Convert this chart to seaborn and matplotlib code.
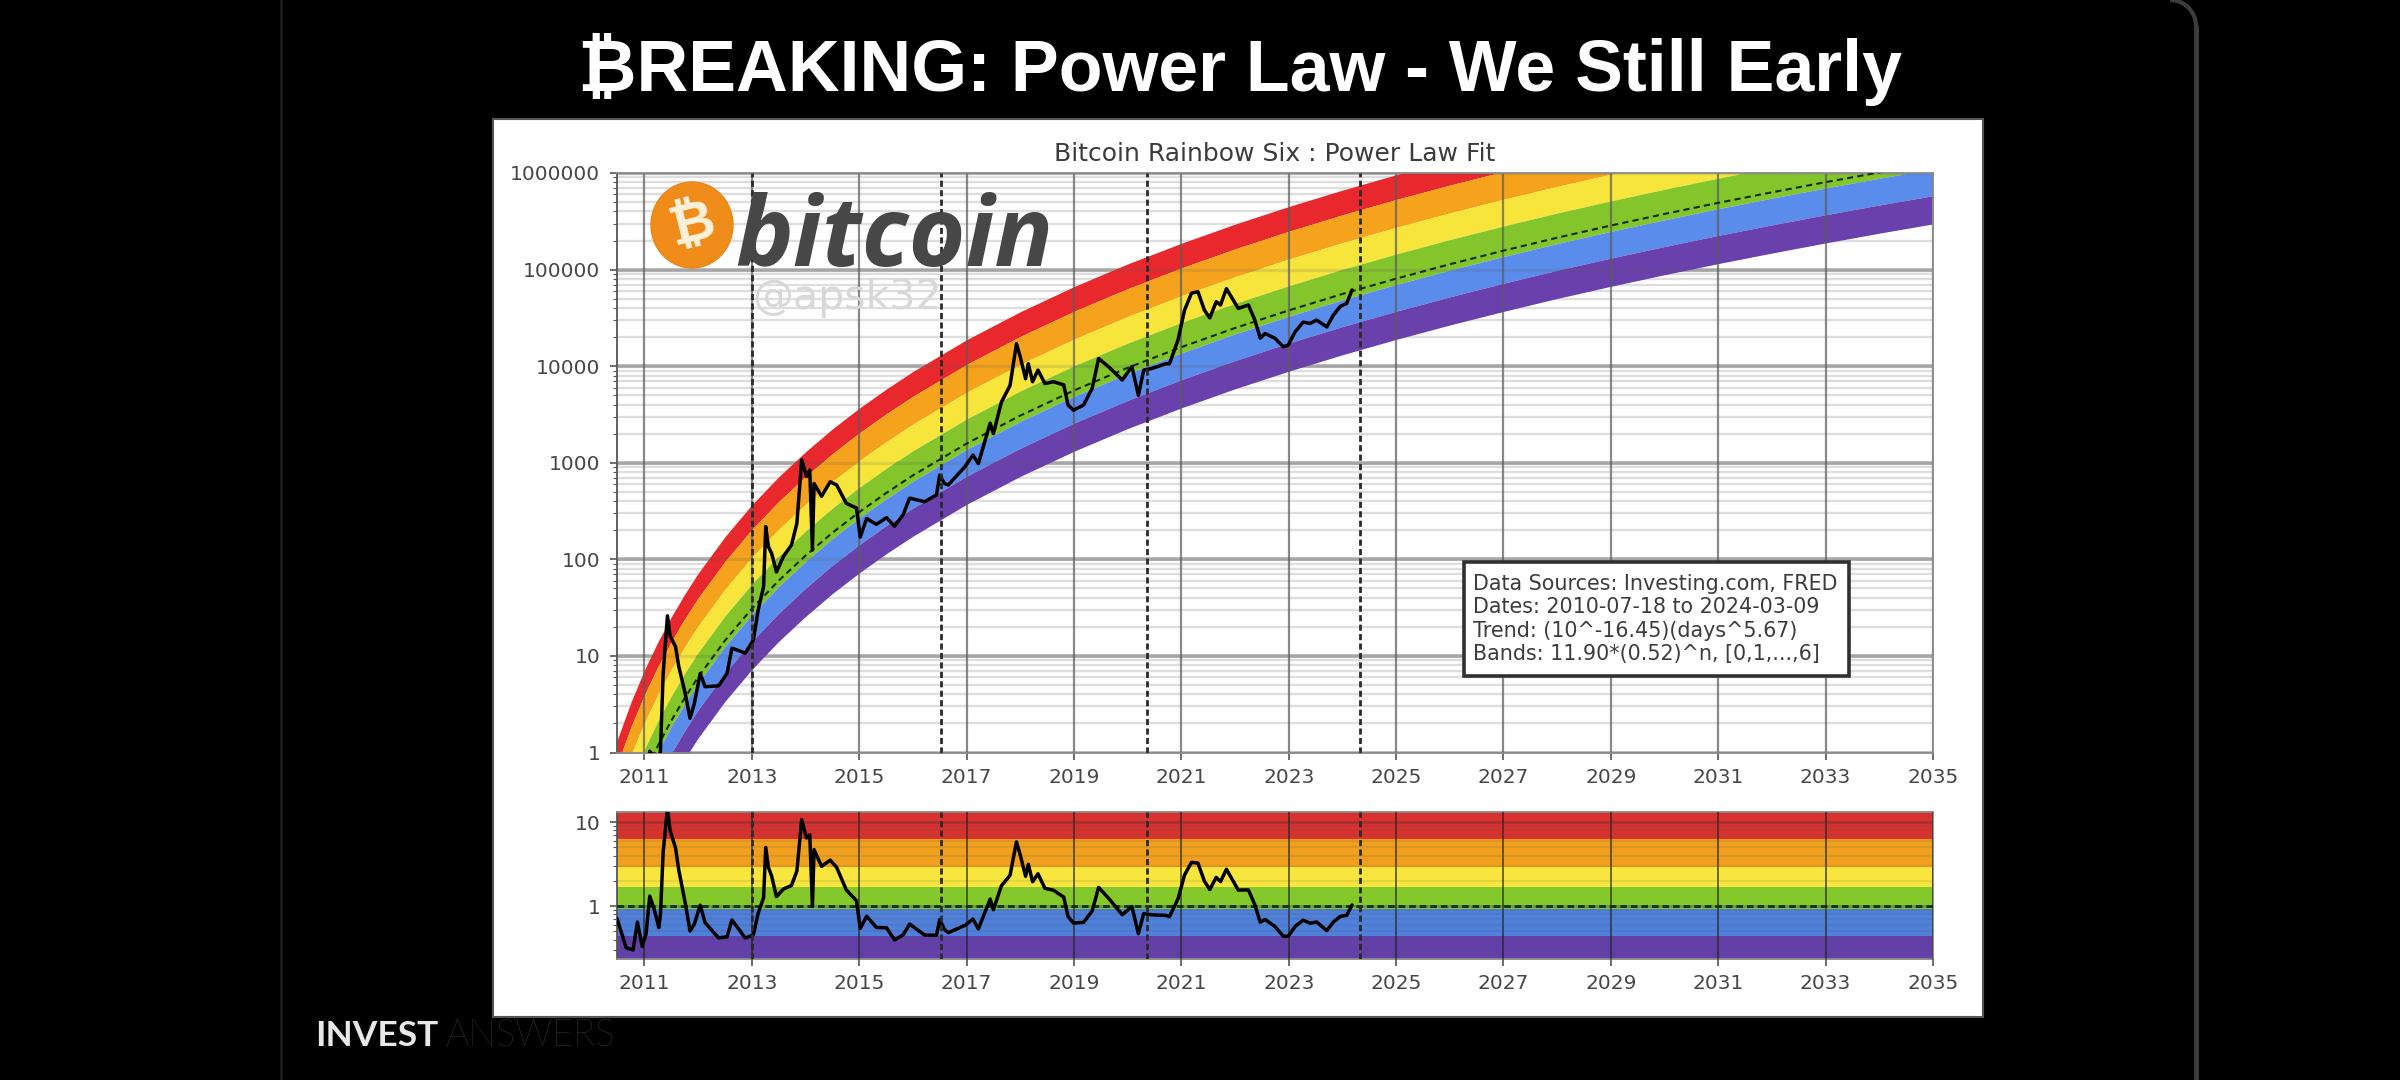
import numpy as np
import seaborn as sns
import matplotlib.pyplot as plt
from matplotlib.lines import Line2D
from matplotlib.patches import Arc, Ellipse, Rectangle

# fitted trend
trend_years = [2010.49, 2010.75, 2011, 2011.25, 2011.5, 2011.75, 2012, 2012.5, 2013, 2013.5,
               2014, 2014.5, 2015, 2015.5, 2016, 2017, 2018, 2019, 2020, 2021, 2022, 2023,
               2024, 2025, 2026, 2027, 2028, 2029, 2030, 2031, 2032, 2033, 2034, 2035]
trend_values = [0.112, 0.279, 0.598, 1.17, 2.13, 3.66, 6.01, 14.4, 30.8, 60.1,
                109, 188, 308, 485, 739, 1578, 3076, 5598, 9616, 15740, 24830, 37760,
                55850, 80540, 113500, 157000, 213800, 285800, 376700, 490900, 631000,
                803500, 1014000, 1265000]

# band edges as multiples of the trend, top to bottom
band_mult = [11.9, 6.6, 3.4, 1.8, 0.87, 0.46, 0.235]
panel_edges = [13.2, 6.3, 2.9, 1.7, 0.93, 0.44, 0.235]
band_colors = ['#e8282c', '#f5a31c', '#f8e53c', '#84c52c', '#5a8cec', '#6a40ac']
panel_colors = ['#d9312f', '#f0a01e', '#f8e63e', '#84c82c', '#4f80da', '#6340a8']

price_years = [2010.49, 2010.66, 2010.79, 2010.87, 2010.96, 2011.03, 2011.10, 2011.18, 2011.27,
               2011.30, 2011.35, 2011.43, 2011.48, 2011.58, 2011.64, 2011.76, 2011.85, 2011.93,
               2012.04, 2012.13, 2012.38, 2012.54, 2012.63, 2012.73, 2012.88, 2013.03, 2013.12,
               2013.22, 2013.26, 2013.31, 2013.37, 2013.46, 2013.59, 2013.74, 2013.84, 2013.93,
               2014.02, 2014.08, 2014.13, 2014.16, 2014.30, 2014.46, 2014.58, 2014.76, 2014.95,
               2015.02, 2015.14, 2015.32, 2015.51, 2015.66, 2015.82, 2015.94, 2016.22, 2016.44,
               2016.50, 2016.59, 2016.66, 2016.97, 2017.12, 2017.22, 2017.44, 2017.50, 2017.65,
               2017.81, 2017.93, 2018.00, 2018.10, 2018.15, 2018.23, 2018.33, 2018.46, 2018.62,
               2018.81, 2018.89, 2018.99, 2019.18, 2019.34, 2019.46, 2019.65, 2019.90, 2020.08,
               2020.20, 2020.30, 2020.46, 2020.71, 2020.78, 2020.94, 2021.06, 2021.19, 2021.31,
               2021.43, 2021.53, 2021.65, 2021.73, 2021.84, 2022.06, 2022.25, 2022.37, 2022.47,
               2022.56, 2022.74, 2022.90, 2022.99, 2023.12, 2023.27, 2023.40, 2023.52, 2023.71,
               2023.83, 2023.96, 2024.08, 2024.18]
price_values = [0.08, 0.065, 0.095, 0.26, 0.175, 0.3, 1.03, 0.9, 0.68,
                1.07, 6.6, 26, 16, 12.5, 7.8, 4.1, 2.26, 3.2,
                6.6, 4.8, 4.9, 6.6, 12, 11.5, 10.7, 14.6, 30,
                52, 218, 135, 115, 74, 107, 141, 236, 1070,
                720, 840, 125, 610, 450, 635, 590, 380, 340,
                170, 265, 230, 270, 220, 290, 430, 395, 465,
                745, 610, 589, 912, 1200, 980, 2570, 2000, 4260,
                6300, 17100, 12500, 7400, 10600, 6900, 9100, 6600, 6900,
                6400, 3960, 3500, 3960, 5900, 12000, 9800, 7200, 9900,
                5000, 9100, 9500, 10600, 10600, 18800, 38000, 57000, 59000,
                38000, 31600, 46500, 43000, 63500, 39600, 43000, 30000, 19500,
                21800, 19500, 15900, 16500, 22700, 28600, 27700, 30000, 25500,
                33700, 41500, 44700, 61500]

halving_years = [2013.0, 2016.53, 2020.36, 2024.32]
tick_years = list(range(2011, 2036, 2))
main_ticks = [1, 10, 100, 1000, 10000, 100000, 1000000]
main_labels = ['1', '10', '100', '1000', '10000', '100000', '1000000']
panel_ticks = [1, 10]
panel_labels = ['1', '10']

info_lines = ['Data Sources: Investing.com, FRED',
              'Dates: 2010-07-18 to 2024-03-09',
              'Trend: (10^-16.45)(days^5.67)',
              'Bands: 11.90*(0.52)^n, [0,1,...,6]']

W, H = 2400, 1080
TXT = '#474747'
sns.set_style('white')
plt.rcParams['font.family'] = ['DejaVu Sans']


def frac_x(px):
    return px / W


def frac_y(py):
    return 1 - py / H


def style_axis(ax):
    ax.set_yscale('log')
    ax.set_xlim(2010.49, 2035)
    ax.set_xticks(tick_years)
    ax.set_xticklabels([str(y) for y in tick_years], fontsize=14.5, color=TXT)
    ax.tick_params(axis='x', which='major', length=5, width=1.2, color='#555555', pad=6,
                   bottom=True)
    ax.tick_params(axis='y', which='major', length=5, width=1.2, color='#555555', left=True,
                   pad=7)
    ax.tick_params(axis='y', which='minor', length=3, width=0.8, color='#555555', left=True)
    for side in ax.spines:
        ax.spines[side].set_color('#8a8a8a')
        ax.spines[side].set_linewidth(1.3)
    ax.spines['left'].set_color('#555555')
    ax.set_xlabel('')
    ax.set_ylabel('')


fig = plt.figure(figsize=(24, 10.8), dpi=100, facecolor='black')

# white slide card behind the two charts
fig.add_artist(Rectangle((frac_x(493), frac_y(1017)), frac_x(1490), 898 / H,
                         transform=fig.transFigure, facecolor='white', edgecolor='#555555',
                         linewidth=1.5, zorder=-2))
fig.add_artist(Line2D([frac_x(2196)] * 2, [0, frac_y(26)], color='#3c3c3c', lw=3.5, zorder=-2))
fig.add_artist(Arc((2170, H - 26), 52, 52, theta1=0, theta2=90, transform=None,
                   color='#3c3c3c', lw=3, zorder=-2))
fig.add_artist(Line2D([frac_x(281)] * 2, [0, 1], color='#1c1c1c', lw=2, zorder=-2))

ax = fig.add_axes([frac_x(617), frac_y(752.5), frac_x(1316), 579.5 / H], facecolor='white')
ax2 = fig.add_axes([frac_x(617), frac_y(959), frac_x(1316), 147 / H], facecolor='white')

trend = np.array(trend_values, dtype=float)
for i, c in enumerate(band_colors):
    ax.fill_between(trend_years, trend * band_mult[i + 1], trend * band_mult[i],
                    color=c, lw=0, zorder=1)

style_axis(ax)
ax.set_ylim(1, 1000000)
ax.set_yticks(main_ticks)
ax.set_yticklabels(main_labels, fontsize=14.5, color=TXT)
ax.yaxis.set_minor_locator(plt.LogLocator(base=10, subs=range(2, 10), numticks=12))
ax.yaxis.set_minor_formatter(plt.NullFormatter())
ax.set_axisbelow(True)
ax.grid(True, axis='y', which='major', color='#b4b4b4', lw=2.6)
ax.grid(True, axis='y', which='minor', color='#dedede', lw=1.7)
ax.grid(False, axis='x')
# year lines and decade lines show faintly through the bands
for x in tick_years:
    ax.axvline(x, color='#5c5c5c', alpha=0.72, lw=1.6, zorder=2)
for y in main_ticks:
    ax.axhline(y, color='#5c5c5c', alpha=0.16, lw=2.4, zorder=2)
ax.set_title('Bitcoin Rainbow Six : Power Law Fit', fontsize=18, color='#3c3c3c', pad=8.5)

sns.lineplot(x=trend_years, y=trend_values, ax=ax, color='#10300c', lw=1.5, ls=(0, (3, 2)),
             errorbar=None, estimator=None, sort=False, zorder=4)
sns.lineplot(x=price_years, y=price_values, ax=ax, color='black', lw=2.5, errorbar=None,
             estimator=None, sort=False, zorder=5)
for x in halving_years:
    ax.axvline(x, color='#2a2a2a', lw=2, ls=(0, (2.2, 1.2)), zorder=6)

# logo and watermark
fig.add_artist(Ellipse((692, H - 225), 82, 86, transform=None, facecolor='#f08c1a',
                       edgecolor='#e8861a', zorder=7))
fig.text(frac_x(692), frac_y(226), '₿', family=['Liberation Sans', 'DejaVu Sans'], fontsize=40,
         color='#fdf1dc', fontweight='bold', rotation=14, ha='center', va='center', zorder=8)
fig.text(frac_x(735), frac_y(266), 'bitcoin', fontsize=70, family='Open Sans',
         fontweight='bold', style='italic', color='#474747', ha='left', va='baseline', zorder=8)
fig.text(frac_x(752), frac_y(309), '@apsk32', fontsize=29.5, color='#d8d8d8', ha='left',
         va='baseline', zorder=8)

fig.add_artist(Rectangle((frac_x(1464), frac_y(676)), frac_x(385), 114 / H,
                         transform=fig.transFigure, facecolor='white', edgecolor='#303030',
                         linewidth=2.6, zorder=8))
fig.text(frac_x(1473), frac_y(619), '\n'.join(info_lines), fontsize=14.9, color='#3c3c3c',
         ha='left', va='center', linespacing=1.2, zorder=9)

# lower panel, price over trend
for i, c in enumerate(panel_colors):
    ax2.axhspan(panel_edges[i + 1], panel_edges[i], color=c, lw=0, zorder=1)

ratio = np.array(price_values) / 10 ** np.interp(price_years, trend_years, np.log10(trend))

style_axis(ax2)
ax2.set_ylim(panel_edges[-1], panel_edges[0])
ax2.set_yticks(panel_ticks)
ax2.set_yticklabels(panel_labels, fontsize=14.5, color=TXT)
ax2.yaxis.set_minor_locator(plt.LogLocator(base=10, subs=range(2, 10), numticks=12))
ax2.yaxis.set_minor_formatter(plt.NullFormatter())
ax2.set_axisbelow(False)
ax2.grid(True, axis='y', which='major', color='#333333', alpha=0.3, lw=2, zorder=2)
ax2.grid(True, axis='y', which='minor', color='#555555', alpha=0.12, lw=1.6, zorder=2)
ax2.grid(True, axis='x', which='major', color='#222222', alpha=0.7, lw=1.3, zorder=2)
ax2.axhline(1, color='#10300c', lw=2, ls=(0, (2.4, 1.4)), zorder=4)
sns.lineplot(x=price_years, y=ratio, ax=ax2, color='black', lw=2.5, errorbar=None,
             estimator=None, sort=False, zorder=5)
for x in halving_years:
    ax2.axvline(x, color='#2a2a2a', lw=2, ls=(0, (2.2, 1.2)), zorder=6)

# slide headline and brand
fig.text(frac_x(1240), frac_y(69), '₿REAKING: Power Law - We Still Early',
         family=['Liberation Sans', 'DejaVu Sans'], fontweight='bold', fontsize=51.7,
         color='white', ha='center', va='center')
fig.text(frac_x(315), frac_y(1036), 'INVEST', family='Lato', fontweight='bold', fontsize=25.5,
         color='#e8e8e8', ha='left', va='center')
fig.text(frac_x(445), frac_y(1036), 'ANSWERS', family='Lato', fontweight='light', fontsize=26.5,
         color='#484848', ha='left', va='center')

fig.savefig('out.png', dpi=100, facecolor='black')
